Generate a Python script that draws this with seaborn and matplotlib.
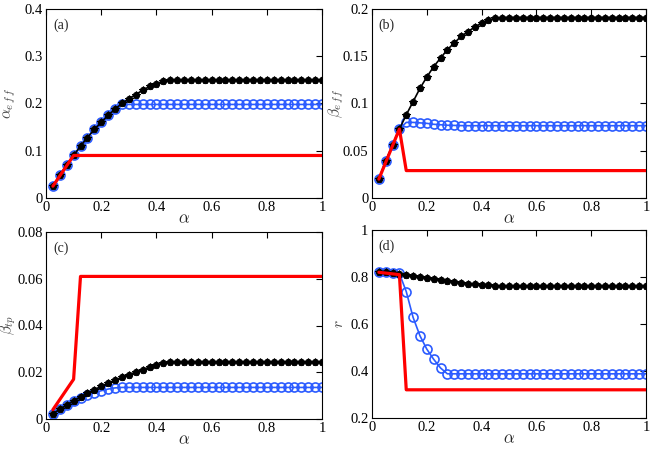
import matplotlib
matplotlib.use("Agg")
import matplotlib.pyplot as plt
import matplotlib.ticker as mticker
import seaborn as sns
import numpy as np
import pandas as pd

# alpha grid of the simulated curves (0.025 .. 1, 40 points)
alpha = [0.025, 0.05, 0.075, 0.1, 0.125, 0.15, 0.175, 0.2, 0.225, 0.25,
         0.275, 0.3, 0.325, 0.35, 0.375, 0.4, 0.425, 0.45, 0.475, 0.5,
         0.525, 0.55, 0.575, 0.6, 0.625, 0.65, 0.675, 0.7, 0.725, 0.75,
         0.775, 0.8, 0.825, 0.85, 0.875, 0.9, 0.925, 0.95, 0.975, 1.0]
# red (theory) curve is piecewise linear
alpha_red = [0.025, 0.1, 0.125, 1.0]

# (a) alpha_eff
a_black = [0.025, 0.048, 0.07, 0.09, 0.11, 0.128, 0.145, 0.16, 0.175, 0.188,
           0.2, 0.21, 0.219, 0.228, 0.236, 0.242, 0.247, 0.249, 0.25, 0.25,
           0.25, 0.25, 0.25, 0.25, 0.25, 0.25, 0.25, 0.25, 0.25, 0.25,
           0.25, 0.25, 0.25, 0.25, 0.25, 0.25, 0.25, 0.25, 0.25, 0.25]
a_blue = [0.025, 0.048, 0.07, 0.09, 0.11, 0.128, 0.145, 0.16, 0.175, 0.188,
          0.198, 0.198, 0.198, 0.198, 0.198, 0.198, 0.198, 0.198, 0.198, 0.198,
          0.198, 0.198, 0.198, 0.198, 0.198, 0.198, 0.198, 0.198, 0.198, 0.198,
          0.198, 0.198, 0.198, 0.198, 0.198, 0.198, 0.198, 0.198, 0.198, 0.198]
a_red = [0.025, 0.09, 0.09, 0.09]

# (b) beta_eff
b_black = [0.02, 0.039, 0.056, 0.073, 0.088, 0.102, 0.116, 0.128, 0.139, 0.148,
           0.157, 0.164, 0.171, 0.176, 0.181, 0.185, 0.188, 0.19, 0.191, 0.191,
           0.191, 0.191, 0.191, 0.191, 0.191, 0.191, 0.191, 0.191, 0.191, 0.191,
           0.191, 0.191, 0.191, 0.191, 0.191, 0.191, 0.191, 0.191, 0.191, 0.191]
b_blue = [0.02, 0.039, 0.056, 0.073, 0.08, 0.08, 0.0795, 0.079, 0.078, 0.0775,
          0.077, 0.0768, 0.0766, 0.0765, 0.0765, 0.0765, 0.0765, 0.0765, 0.0765, 0.0765,
          0.0765, 0.0765, 0.0765, 0.0765, 0.0765, 0.0765, 0.0765, 0.0765, 0.0765, 0.0765,
          0.0765, 0.0765, 0.0765, 0.0765, 0.0765, 0.0765, 0.0765, 0.0765, 0.0765, 0.0765]
b_red = [0.02, 0.073, 0.029, 0.029]

# (c) beta_tp
c_black = [0.0022, 0.0042, 0.006, 0.0078, 0.0095, 0.011, 0.0125, 0.014, 0.0153, 0.0166,
           0.0178, 0.019, 0.02, 0.021, 0.0222, 0.0232, 0.0238, 0.0242, 0.0243, 0.0243,
           0.0243, 0.0243, 0.0243, 0.0243, 0.0243, 0.0243, 0.0243, 0.0243, 0.0243, 0.0243,
           0.0243, 0.0243, 0.0243, 0.0243, 0.0243, 0.0243, 0.0243, 0.0243, 0.0243, 0.0243]
c_blue = [0.0022, 0.0042, 0.006, 0.0078, 0.009, 0.0102, 0.0112, 0.0121, 0.0128, 0.0133,
          0.0135, 0.0135, 0.0135, 0.0135, 0.0135, 0.0135, 0.0135, 0.0135, 0.0135, 0.0135,
          0.0135, 0.0135, 0.0135, 0.0135, 0.0135, 0.0135, 0.0135, 0.0135, 0.0135, 0.0135,
          0.0135, 0.0135, 0.0135, 0.0135, 0.0135, 0.0135, 0.0135, 0.0135, 0.0135, 0.0135]
c_red = [0.004, 0.017, 0.061, 0.061]

# (d) r
d_black = [0.822, 0.82, 0.816, 0.812, 0.808, 0.804, 0.8, 0.796, 0.792, 0.788,
           0.784, 0.78, 0.776, 0.772, 0.769, 0.766, 0.764, 0.763, 0.762, 0.762,
           0.762, 0.762, 0.762, 0.762, 0.762, 0.762, 0.762, 0.762, 0.762, 0.762,
           0.762, 0.762, 0.762, 0.762, 0.762, 0.762, 0.762, 0.762, 0.762, 0.762]
d_blue = [0.822, 0.82, 0.818, 0.815, 0.738, 0.628, 0.55, 0.493, 0.45, 0.413,
          0.388, 0.388, 0.388, 0.388, 0.388, 0.388, 0.388, 0.388, 0.388, 0.388,
          0.388, 0.388, 0.388, 0.388, 0.388, 0.388, 0.388, 0.388, 0.388, 0.388,
          0.388, 0.388, 0.388, 0.388, 0.388, 0.388, 0.388, 0.388, 0.388, 0.388]
d_red = [0.82, 0.81, 0.32, 0.32]

panels = [
    ("(a)", r"$\alpha_{e\,f\,f}$", a_black, a_blue, a_red, (0, 0.4), [0, 0.1, 0.2, 0.3, 0.4]),
    ("(b)", r"$\beta_{e\,f\,f}$", b_black, b_blue, b_red, (0, 0.2), [0, 0.05, 0.1, 0.15, 0.2]),
    ("(c)", r"$\beta_{tp}$", c_black, c_blue, c_red, (0, 0.08), [0, 0.02, 0.04, 0.06, 0.08]),
    ("(d)", r"$r$", d_black, d_blue, d_red, (0.2, 1.0), [0.2, 0.4, 0.6, 0.8, 1.0]),
]

sns.set_style("white")
plt.rcParams['font.family'] = 'serif'
plt.rcParams['font.serif'] = ['Liberation Serif', 'DejaVu Serif']
plt.rcParams['mathtext.fontset'] = 'cm'

fig = plt.figure(figsize=(6.54, 4.51), dpi=100)
W, H = 654, 451
# axes boxes in pixels (left, top, right, bottom) and y-label right edge
boxes = [(46, 9, 322, 198, 18), (372, 9, 646, 198, 346),
         (46, 232, 322, 419, 18), (372, 230, 646, 418, 346)]
blue = '#2b5bff'

for (tag, ylab, yk, yb, yr, ylim, yticks), (x0, y0, x1, y1, lx) in zip(panels, boxes):
    ax = fig.add_axes([x0 / W, 1 - y1 / H, (x1 - x0) / W, (y1 - y0) / H])
    sns.lineplot(x=alpha, y=yb, ax=ax, color=blue, linewidth=1.2, marker='o',
                 markersize=6.5, markerfacecolor='none', markeredgecolor=blue,
                 markeredgewidth=1.2, zorder=2)
    sns.lineplot(x=alpha, y=yk, ax=ax, color='black', linewidth=1.2, marker='o',
                 markersize=4.5, markeredgecolor='black', markerfacecolor='black',
                 zorder=3)
    sns.lineplot(x=alpha, y=yk, ax=ax, color='black', linewidth=0, marker='*',
                 markersize=5.5, markeredgecolor='black', markerfacecolor='black',
                 zorder=3)
    sns.lineplot(x=alpha_red, y=yr, ax=ax, color='red', linewidth=2.3, zorder=4)
    ax.set_xlim(0, 1)
    ax.set_ylim(*ylim)
    ax.set_xticks([0, 0.2, 0.4, 0.6, 0.8, 1])
    ax.set_yticks(yticks)
    fmt = mticker.FuncFormatter(lambda v, p: f"{v:g}")
    ax.xaxis.set_major_formatter(fmt)
    ax.yaxis.set_major_formatter(fmt)
    ax.tick_params(direction='in', length=4, width=0.8, top=True, right=True,
                   labelsize=10.5, pad=2.5, colors='black')
    for s in ax.spines.values():
        s.set_color('black')
        s.set_linewidth(0.8)
    ax.set_xlabel(r"$\alpha$", fontsize=12, labelpad=-2)
    ax.set_ylabel(ylab, fontsize=11, color='#444444')
    ax.yaxis.set_label_coords((lx - x0) / (x1 - x0), 0.5)
    ax.text(0.025, 0.95, tag, transform=ax.transAxes, fontsize=10,
            va='top', ha='left')

fig.savefig('out.png', dpi=100)
